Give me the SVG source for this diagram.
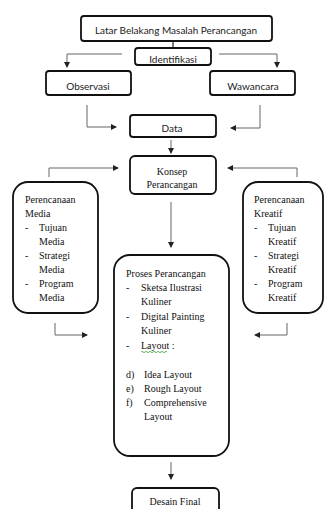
<svg xmlns="http://www.w3.org/2000/svg" width="324" height="509" viewBox="0 0 324 509">
<defs>
<marker id="ah" markerWidth="6" markerHeight="6" refX="5" refY="3" orient="auto" markerUnits="userSpaceOnUse">
<path d="M0,0 L6,3 L0,6 Z" fill="#222"/>
</marker>
<style>
.box{fill:#fff;stroke:#111;stroke-width:1.8}
.con{fill:none;stroke:#666;stroke-width:1}
.sans{font-family:Lato,"Liberation Sans",sans-serif;font-size:10px;fill:#222}
.serif{font-family:"Liberation Serif","Times New Roman",serif;font-size:10px;fill:#111}
.mid{text-anchor:middle}
</style>
</defs>
<rect width="324" height="509" fill="#fff"/>
<g id="connectors">
<line class="con" x1="173" y1="41" x2="173" y2="48" style="stroke:#444;stroke-width:1.4"/>
<path class="con" d="M122,54 H67 V67" marker-end="url(#ah)"/>
<path class="con" d="M219,54 H277 V67" marker-end="url(#ah)"/>
<path class="con" d="M87,105 V127 H116" marker-end="url(#ah)"/>
<path class="con" d="M260,105 V128 H231" marker-end="url(#ah)"/>
<path class="con" d="M171,140 V153" marker-end="url(#ah)"/>
<path class="con" d="M49,177 V168 H118" marker-end="url(#ah)"/>
<path class="con" d="M297,177 V168 H228" marker-end="url(#ah)"/>
<path class="con" d="M171,202 V247" marker-end="url(#ah)"/>
<path class="con" d="M55,323 V335 H87" marker-end="url(#ah)"/>
<path class="con" d="M287,323 V335 H255" marker-end="url(#ah)"/>
<path class="con" d="M171,462 V479" marker-end="url(#ah)"/>
</g>
<g id="latar">
<rect class="box" x="81" y="16" width="191" height="25" rx="3"/>
<text class="sans mid" x="176" y="34">Latar Belakang Masalah Perancangan</text>
</g>
<g id="identifikasi">
<rect class="box" x="135" y="48" width="76" height="17" rx="3"/>
<text class="sans mid" x="173" y="62.5">Identifikasi</text>
</g>
<g id="observasi">
<rect class="box" x="46" y="71" width="85" height="24" rx="3"/>
<text class="sans mid" x="88" y="89.5">Observasi</text>
</g>
<g id="wawancara">
<rect class="box" x="210" y="71" width="85" height="24" rx="3"/>
<text class="sans mid" x="253" y="89.5">Wawancara</text>
</g>
<g id="data">
<rect class="box" x="130" y="115" width="86" height="22" rx="3"/>
<text class="sans mid" x="172" y="132">Data</text>
</g>
<g id="konsep">
<rect class="box" x="130" y="156" width="86" height="38" rx="5"/>
<text class="serif mid" x="172" y="175">Konsep</text>
<text class="serif mid" x="172" y="188">Perancangan</text>
</g>
<g id="media">
<rect class="box" x="13" y="182" width="85" height="131" rx="15"/>
<text class="serif" x="25" y="203">Perencanaan</text>
<text class="serif" x="25" y="217">Media</text>
<text class="serif" x="25" y="231">-</text>
<text class="serif" x="39" y="231">Tujuan</text>
<text class="serif" x="39" y="245">Media</text>
<text class="serif" x="25" y="259">-</text>
<text class="serif" x="39" y="259">Strategi</text>
<text class="serif" x="39" y="273">Media</text>
<text class="serif" x="25" y="287">-</text>
<text class="serif" x="39" y="287">Program</text>
<text class="serif" x="39" y="301">Media</text>
</g>
<g id="kreatif">
<rect class="box" x="243" y="182" width="80" height="131" rx="15"/>
<text class="serif" x="254" y="203">Perencanaan</text>
<text class="serif" x="254" y="217">Kreatif</text>
<text class="serif" x="254" y="231">-</text>
<text class="serif" x="268" y="231">Tujuan</text>
<text class="serif" x="268" y="245">Kreatif</text>
<text class="serif" x="254" y="259">-</text>
<text class="serif" x="268" y="259">Strategi</text>
<text class="serif" x="268" y="273">Kreatif</text>
<text class="serif" x="254" y="287">-</text>
<text class="serif" x="268" y="287">Program</text>
<text class="serif" x="268" y="301">Kreatif</text>
</g>
<g id="proses">
<rect class="box" x="114" y="255" width="115" height="201" rx="16"/>
<text class="serif" x="126" y="277">Proses Perancangan</text>
<text class="serif" x="126" y="291">-</text>
<text class="serif" x="141" y="291">Sketsa Ilustrasi</text>
<text class="serif" x="141" y="305">Kuliner</text>
<text class="serif" x="126" y="320">-</text>
<text class="serif" x="141" y="320">Digital Painting</text>
<text class="serif" x="141" y="334">Kuliner</text>
<text class="serif" x="126" y="349">-</text>
<text class="serif" x="141" y="349">Layout :</text>
<path d="M141,352 q1,-1.2 2,0 t2,0 t2,0 t2,0 t2,0 t2,0 t2,0 t2,0 t2,0 t2,0 t2,0 t2,0 t2,0" fill="none" stroke="#3a9a3a" stroke-width="0.8"/>
<text class="serif" x="126" y="378">d)</text>
<text class="serif" x="144" y="378">Idea Layout</text>
<text class="serif" x="126" y="392">e)</text>
<text class="serif" x="144" y="392">Rough Layout</text>
<text class="serif" x="126" y="406">f)</text>
<text class="serif" x="144" y="406">Comprehensive</text>
<text class="serif" x="144" y="420">Layout</text>
</g>
<g id="desain">
<rect class="box" x="132" y="488" width="87" height="30" rx="5"/>
<text class="serif mid" x="175" y="505">Desain Final</text>
</g>
</svg>
